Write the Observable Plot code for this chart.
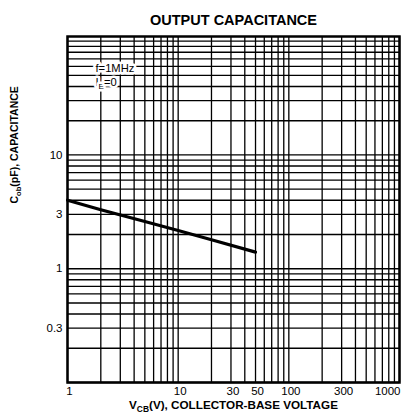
<!DOCTYPE html>
<html><head><meta charset="utf-8">
<script src="https://cdn.jsdelivr.net/npm/d3@7"></script>
<script src="https://cdn.jsdelivr.net/npm/@observablehq/plot@0.6"></script>
<style>body{margin:0;background:#fff} svg{display:block}</style>
</head><body><div id="chart"></div>
<script>
// Data (log-log straight line)
const voltage = [1, 2, 5, 10, 20, 50];
const capacitance = [4.0, 3.3, 2.6, 2.17, 1.8, 1.4];

// Axis tick labels
const xTickLabels = [1, 10, 30, 50, 100, 300];
const xTickLabelEnd = [1000];
const yTickLabels = [0.3, 1, 3, 10];

// Grid line values (log paper)
const xGrid = [1,2,3,4,5,6,7,8,9,10,20,30,40,50,60,70,80,90,100,200,300,400,500,600,700,800,900,1000];
const yGrid = [0.1,0.2,0.3,0.4,0.5,0.6,0.7,0.8,0.9,1,2,3,4,5,6,7,8,9,10,20,30,40,50,60,70,80,90,100];

const titleText = "OUTPUT CAPACITANCE";
const xLabelParts = [["V", false], ["CB", true], ["(V), COLLECTOR-BASE VOLTAGE", false]];
const yLabelParts = [["C", false], ["ob", true], ["(pF), CAPACITANCE", false]];
const noteLines = [[["f=1MHz", false]], [["I", false], ["E", true], ["=0", false]]];

const join = parts => parts.map(p => p[0]).join("");
const data = voltage.map((v, i) => ({v, c: capacitance[i]}));
const font = "'Liberation Sans', Arial, Helvetica, sans-serif";

const noteOpts = (dy) => ({text: d => d, frameAnchor: "top-left", dx: 28, dy, textAnchor: "start", fontSize: 11.2,
  fill: "#000", stroke: "#fff", strokeWidth: 5, paintOrder: "stroke", strokeLinejoin: "round"});

const chart = Plot.plot({
  width: 409, height: 420,
  marginLeft: 67, marginRight: 10, marginTop: 36, marginBottom: 38,
  style: {fontFamily: font, background: "#fff", color: "#000", overflow: "visible"},
  x: {type: "log", domain: [1, 1000], axis: null},
  y: {type: "log", domain: [0.1, 110], axis: null},
  marks: [
    Plot.ruleX(xGrid, {x: d => d, stroke: "#000", strokeWidth: 1.3}),
    Plot.ruleY(yGrid, {y: d => d, stroke: "#000", strokeWidth: 1.3}),
    Plot.text([join(noteLines[0])], noteOpts(28)),
    Plot.text([join(noteLines[1])], noteOpts(41.5)),
    Plot.line(data, {x: "v", y: "c", stroke: "#000", strokeWidth: 3.2}),
    Plot.frame({stroke: "#000", strokeWidth: 2.5}),
    Plot.text(xTickLabels, {x: d => d, text: d => String(d), frameAnchor: "bottom", dy: 12, dx: 2, fontSize: 11.5, fill: "#000"}),
    Plot.text(xTickLabelEnd, {x: d => d, text: d => String(d), frameAnchor: "bottom", dy: 12, textAnchor: "end", dx: 1, fontSize: 11.5, fill: "#000"}),
    Plot.text(yTickLabels, {y: d => d, text: d => String(d), frameAnchor: "left", dx: -5, textAnchor: "end", fontSize: 11.5, fill: "#000"}),
    Plot.text([titleText], {text: d => d, frameAnchor: "top", dy: -22, fontSize: 14.5, fontWeight: "bold", fill: "#000"}),
    Plot.text([join(xLabelParts)], {text: d => d, frameAnchor: "bottom", dy: 26, fontSize: 11.7, fontWeight: "bold", fill: "#000"}),
    Plot.text([join(yLabelParts)], {text: d => d, frameAnchor: "left", dx: -53, dy: -6, rotate: -90, fontSize: 10.5, fontWeight: "bold", fill: "#000"})
  ]
});

function subscript(svg, parts) {
  const full = join(parts);
  d3.select(svg).selectAll("text").filter(function() { return this.textContent === full; }).each(function() {
    const t = d3.select(this);
    t.selectAll("*").remove();
    t.text(null);
    let shifted = false;
    parts.forEach(([s, isSub]) => {
      const ts = t.append("tspan").text(s);
      if (isSub && !shifted) { ts.attr("dy", 3).attr("font-size", "0.72em"); shifted = true; }
      else if (!isSub && shifted) { ts.attr("dy", -3); shifted = false; }
    });
  });
}
subscript(chart, xLabelParts);
subscript(chart, yLabelParts);
subscript(chart, noteLines[1]);

document.getElementById("chart").appendChild(chart);
</script>
</body></html>
